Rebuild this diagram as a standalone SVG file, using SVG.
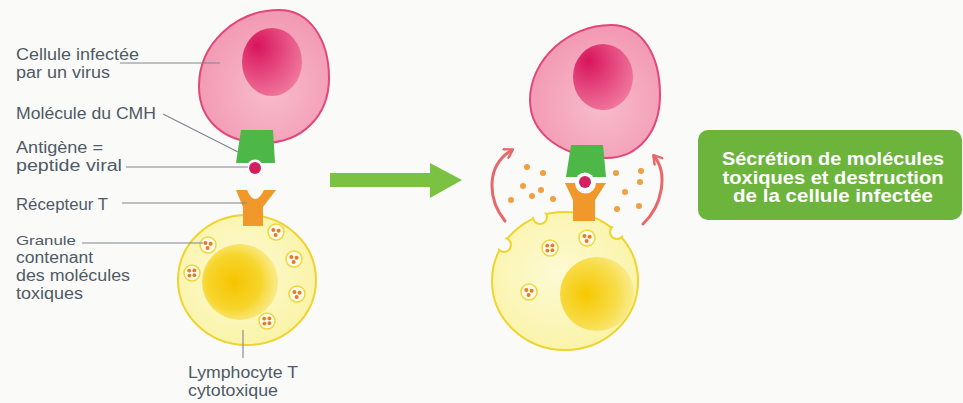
<svg xmlns="http://www.w3.org/2000/svg" width="963" height="403" viewBox="0 0 963 403">
  <style>
    .lbl { font-family: "Liberation Sans", Arial, sans-serif; font-size: 16px; fill: #4f5a66; }
    .lbl-sm { font-family: "Liberation Sans", Arial, sans-serif; font-size: 13px; fill: #4f5a66; }
    .box-txt { font-family: "Liberation Sans", Arial, sans-serif; font-size: 18px; font-weight: bold; fill: #ffffff; text-anchor: middle; }
    .leader { stroke: #7a8694; stroke-width: 1.1; fill: none; }
    .cell-pink { fill: url(#pinkFill); stroke: #e2467a; stroke-width: 2; }
    .nuc-pink { fill: url(#pinkNuc); }
    .cell-yel { fill: url(#yelFill); stroke: #efd42e; stroke-width: 2; }
    .mhc { fill: #4db848; }
    .tcr { fill: #f0982a; }
    .ag-ring { fill: #ffffff; }
    .ag { fill: #d41f5e; }
    .granule { fill: #fffce6; stroke: #efd63a; stroke-width: 1.5; }
    .gdot { fill: #e8782c; }
    .tox { fill: #f0a040; }
    .curl { fill: none; stroke: #e8686a; stroke-width: 3; stroke-linecap: round; }
    .notch { fill: #fafaf8; stroke: #efd42e; stroke-width: 2; }
  </style>
  <defs>
    <radialGradient id="pinkFill" cx="55%" cy="60%" r="60%">
      <stop offset="0" stop-color="#f8bccc"/>
      <stop offset="1" stop-color="#f298b2"/>
    </radialGradient>
    <radialGradient id="pinkNuc" cx="30%" cy="30%" r="80%" fx="25%" fy="25%">
      <stop offset="0" stop-color="#d8145a"/>
      <stop offset="1" stop-color="#f07aa0"/>
    </radialGradient>
    <radialGradient id="yelFill" cx="45%" cy="45%" r="60%">
      <stop offset="0" stop-color="#fdfad4"/>
      <stop offset="1" stop-color="#faf3a6"/>
    </radialGradient>
    <radialGradient id="yelNucL" cx="42%" cy="50%" r="60%">
      <stop offset="0" stop-color="#f5c400"/>
      <stop offset="0.6" stop-color="#f7d52c"/>
      <stop offset="1" stop-color="#f8e56e" stop-opacity="0.6"/>
    </radialGradient>
    <radialGradient id="yelNucR" cx="35%" cy="50%" r="70%">
      <stop offset="0" stop-color="#f6c800"/>
      <stop offset="0.6" stop-color="#f8dc4a"/>
      <stop offset="1" stop-color="#faef9e"/>
    </radialGradient>
    <clipPath id="rCellClip">
      <ellipse cx="565" cy="281" rx="75" ry="71"/>
    </clipPath>
    <marker id="curlHead" viewBox="0 0 12 12" refX="9" refY="6" markerWidth="12" markerHeight="12" markerUnits="userSpaceOnUse" orient="auto">
      <path d="M2,1 L10,6 L2,11" fill="none" stroke="#e8686a" stroke-width="2.4" stroke-linecap="round" stroke-linejoin="round"/>
    </marker>
    <!-- granule with toxic molecules -->
    <g id="gran3">
      <circle class="granule" r="8"/>
      <circle class="gdot" cx="-2.6" cy="-2" r="2"/>
      <circle class="gdot" cx="2.6" cy="-1.2" r="2"/>
      <circle class="gdot" cx="-0.4" cy="3" r="2"/>
    </g>
    <g id="gran4">
      <circle class="granule" r="8"/>
      <circle class="gdot" cx="-2.8" cy="-2.4" r="1.9"/>
      <circle class="gdot" cx="2.4" cy="-2.6" r="1.9"/>
      <circle class="gdot" cx="-2.6" cy="2.6" r="1.9"/>
      <circle class="gdot" cx="2.4" cy="2.2" r="1.9"/>
    </g>
  </defs>

  <rect width="963" height="403" fill="#fafaf8"/>

  <!-- left: infected cell before contact -->
  <g id="cellule-infectee-1">
    <path class="cell-pink" d="M199,86 C199,44 236,10 279,10 C310,10 329,40 329,78 C329,116 302,143 263,143 C226,143 199,122 199,86 Z"/>
    <ellipse class="nuc-pink" cx="272" cy="62" rx="30" ry="34"/>
    <path class="mhc" d="M241,130 L273,130 L275,163 L236,163 Z"/>
  </g>

  <!-- left: cytotoxic T lymphocyte -->
  <g id="lymphocyte-1">
    <ellipse class="cell-yel" cx="247" cy="280" rx="69" ry="65"/>
    <ellipse cx="240" cy="282" rx="38" ry="38" fill="url(#yelNucL)"/>
    <use href="#gran3" x="208" y="245"/>
    <use href="#gran4" x="192" y="273"/>
    <use href="#gran3" x="276" y="232"/>
    <use href="#gran3" x="294" y="259"/>
    <use href="#gran3" x="297" y="294"/>
    <use href="#gran4" x="267" y="321"/>
    <path class="tcr" d="M236,190 L247,190 Q255,208 264,190 L276,190 L263,207 L263,226 L243,226 L243,207 Z"/>
  </g>

  <g id="antigene-1">
    <circle class="ag-ring" cx="255" cy="168" r="8.5"/>
    <circle class="ag" cx="255" cy="168" r="6"/>
  </g>

  <!-- right: infected cell under attack -->
  <g id="cellule-infectee-2">
    <path class="cell-pink" d="M530,100 C530,60 568,25 611,25 C642,25 660,55 660,95 C660,130 640,158 606,158 C566,158 530,136 530,100 Z"/>
    <ellipse class="nuc-pink" cx="603" cy="77" rx="30" ry="33"/>
    <path class="mhc" d="M571,145 L603,145 L606,177 L566,177 Z"/>
  </g>

  <!-- right: lymphocyte releasing its granules -->
  <g id="lymphocyte-2">
    <ellipse class="cell-yel" cx="565" cy="281" rx="73" ry="69"/>
    <g clip-path="url(#rCellClip)">
      <circle class="notch" cx="504" cy="245" r="7"/>
      <circle class="notch" cx="540" cy="217" r="7"/>
      <circle class="notch" cx="617" cy="232" r="7"/>
    </g>
    <circle cx="597" cy="294" r="37" fill="url(#yelNucR)"/>
    <use href="#gran4" x="550" y="248"/>
    <use href="#gran3" x="587" y="238"/>
    <use href="#gran3" x="529" y="292"/>
    <path class="tcr" d="M565,183 L575,183 A10.5,10.5 0 0 0 596,183 L606,183 L595,200 L595,221 L573,221 L573,200 Z"/>
  </g>

  <g id="antigene-2">
    <circle class="ag-ring" cx="585" cy="182" r="9.5"/>
    <circle class="ag" cx="585" cy="182" r="6"/>
  </g>

  <!-- released toxic molecules -->
  <g id="molecules-toxiques">
    <circle class="tox" cx="527" cy="167" r="3"/>
    <circle class="tox" cx="543" cy="173" r="3"/>
    <circle class="tox" cx="523" cy="186" r="3"/>
    <circle class="tox" cx="541" cy="190" r="3"/>
    <circle class="tox" cx="532" cy="196" r="3"/>
    <circle class="tox" cx="511" cy="200" r="3"/>
    <circle class="tox" cx="553" cy="199" r="3"/>
    <circle class="tox" cx="616" cy="173" r="3"/>
    <circle class="tox" cx="641" cy="171" r="3"/>
    <circle class="tox" cx="640" cy="182" r="3"/>
    <circle class="tox" cx="625" cy="192" r="3"/>
    <circle class="tox" cx="617" cy="209" r="3"/>
    <circle class="tox" cx="639" cy="206" r="3"/>
  </g>

  <!-- connectors: leader lines and arrows -->
  <g id="connecteurs">
    <line class="leader" x1="120" y1="63" x2="220" y2="63"/>
    <line class="leader" x1="163" y1="114" x2="238" y2="152"/>
    <line class="leader" x1="126" y1="167" x2="248" y2="167"/>
    <line class="leader" x1="122" y1="203" x2="247" y2="203"/>
    <line class="leader" x1="82" y1="243" x2="203" y2="243"/>
    <line class="leader" x1="243" y1="330" x2="243" y2="358"/>
    <polygon fill="#7cc242" points="330,173 430,173 430,163 462,180 430,198 430,187 330,187"/>
    <path class="curl" d="M505,221 C488,200 485,166 512,150" marker-end="url(#curlHead)"/>
    <path class="curl" d="M643,224 C663,205 668,173 654,156" marker-end="url(#curlHead)"/>
  </g>

  <!-- labels -->
  <g id="legendes">
    <text class="lbl" x="16" y="60" textLength="123" lengthAdjust="spacingAndGlyphs">Cellule infectée</text>
    <text class="lbl" x="16" y="78" textLength="94" lengthAdjust="spacingAndGlyphs">par un virus</text>
    <text class="lbl" x="16" y="119" textLength="140" lengthAdjust="spacingAndGlyphs">Molécule du CMH</text>
    <text class="lbl" x="16" y="153" textLength="87" lengthAdjust="spacingAndGlyphs">Antigène =</text>
    <text class="lbl" x="16" y="171" textLength="106" lengthAdjust="spacingAndGlyphs">peptide viral</text>
    <text class="lbl" x="16" y="210" textLength="92" lengthAdjust="spacingAndGlyphs">Récepteur T</text>
    <text class="lbl-sm" x="16" y="245" textLength="60" lengthAdjust="spacingAndGlyphs">Granule</text>
    <text class="lbl" x="16" y="263" textLength="77" lengthAdjust="spacingAndGlyphs">contenant</text>
    <text class="lbl" x="16" y="281" textLength="114" lengthAdjust="spacingAndGlyphs">des molécules</text>
    <text class="lbl" x="16" y="299" textLength="67" lengthAdjust="spacingAndGlyphs">toxiques</text>
    <text class="lbl" x="188" y="378" textLength="110" lengthAdjust="spacingAndGlyphs">Lymphocyte T</text>
    <text class="lbl" x="188" y="396" textLength="90" lengthAdjust="spacingAndGlyphs">cytotoxique</text>
  </g>

  <g id="encadre-resultat">
    <rect x="698" y="130" width="264" height="90" rx="10" fill="#6cb43c"/>
    <text class="box-txt" x="833" y="165" textLength="222" lengthAdjust="spacingAndGlyphs">Sécrétion de molécules</text>
    <text class="box-txt" x="833" y="183.5" textLength="221" lengthAdjust="spacingAndGlyphs">toxiques et destruction</text>
    <text class="box-txt" x="833" y="202" textLength="200" lengthAdjust="spacingAndGlyphs">de la cellule infectée</text>
  </g>
</svg>
